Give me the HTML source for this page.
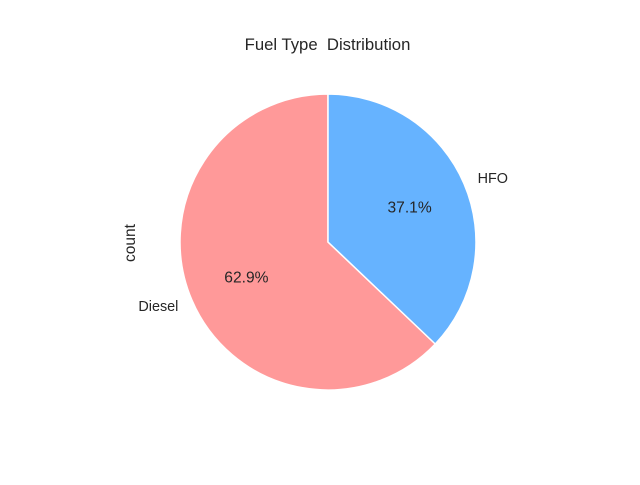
<!DOCTYPE html>
<html><head><meta charset="utf-8"><style>
body{margin:0;background:#fff;}
svg text{font-family:"Liberation Sans","DejaVu Sans",sans-serif;fill:#262626;white-space:pre;}
</style></head><body>
<svg id="chart" width="640" height="480" viewBox="0 0 640 480">
<rect width="640" height="480" fill="#fff"/>
<text x="327.5" y="50" font-size="16.7" text-anchor="middle" xml:space="preserve">Fuel Type  Distribution</text>
<text transform="translate(135,243) rotate(-90)" font-size="15.5" text-anchor="middle">count</text>
<g id="slices"></g>
</svg>
<script>
const categories = ["Diesel", "HFO"];
const values = [62.9, 37.1];
const colors = ["#ff9999", "#66b3ff"];
const cx = 328, cy = 242, r = 148;
const g = document.getElementById('slices');
const ns = 'http://www.w3.org/2000/svg';
const total = values.reduce((a, b) => a + b, 0);
let start = 90;
function pt(deg, rad) { const a = deg * Math.PI / 180; return [cx + rad * Math.cos(a), cy - rad * Math.sin(a)]; }
values.forEach((v, i) => {
  const sweep = v / total * 360;
  const end = start + sweep;
  const [x1, y1] = pt(start, r), [x2, y2] = pt(end, r);
  const large = sweep > 180 ? 1 : 0;
  const p = document.createElementNS(ns, 'path');
  p.setAttribute('d', `M${cx},${cy} L${x1},${y1} A${r},${r} 0 ${large} 0 ${x2},${y2} Z`);
  p.setAttribute('fill', colors[i]);
  p.setAttribute('stroke', '#fff');
  p.setAttribute('stroke-width', '1.5');
  
  
  g.appendChild(p);
  const mid = start + sweep / 2;
  const [lx, ly] = pt(mid, r * 1.1);
  const t = document.createElementNS(ns, 'text');
  t.setAttribute('x', lx); t.setAttribute('y', ly + 5);
  t.setAttribute('font-size', '14.4');
  t.setAttribute('text-anchor', Math.cos(mid * Math.PI / 180) < 0 ? 'end' : 'start');
  t.textContent = categories[i];
  
  
  g.appendChild(t);
  const [px, py] = pt(mid, r * 0.6);
  const q = document.createElementNS(ns, 'text');
  q.setAttribute('x', px); q.setAttribute('y', py + 5.5);
  q.setAttribute('font-size', '15.6');
  q.setAttribute('text-anchor', 'middle');
  q.textContent = (v / total * 100).toFixed(1) + '%';
  
  
  g.appendChild(q);
  start = end;
});
</script>
</body></html>
